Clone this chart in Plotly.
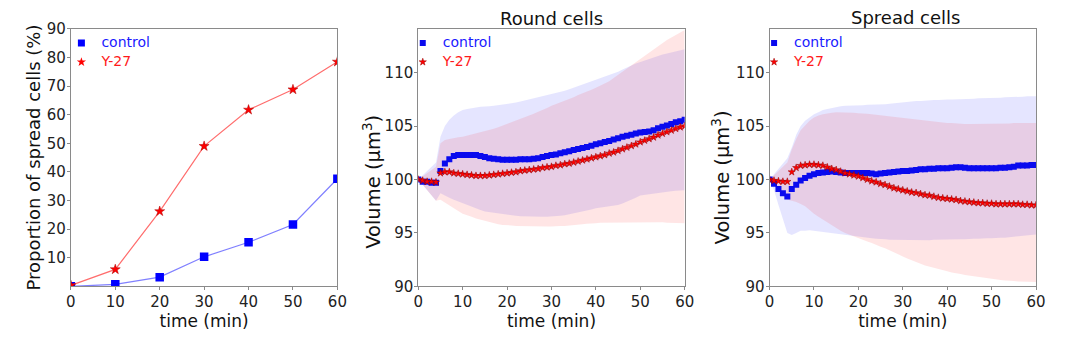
import plotly.graph_objects as go

# ---------------- data ----------------
t_prop = [0, 10, 20, 30, 40, 50, 60]
prop_control = [0.0, 0.7, 3.2, 10.3, 15.4, 21.6, 37.6]
prop_y27 = [0.3, 5.9, 26.2, 49.0, 61.7, 68.8, 78.5]

t_vol = list(range(61))

round_ctrl_mean = [100.0, 99.8, 99.8, 99.7, 99.7, 100.8, 101.5, 101.9, 102.2, 102.3,
                   102.3, 102.3, 102.3, 102.3, 102.2, 102.1, 102.0, 101.95, 101.9, 101.85,
                   101.85, 101.85, 101.85, 101.9, 101.9, 101.9, 101.95, 102.0, 102.1, 102.2,
                   102.3, 102.35, 102.45, 102.55, 102.65, 102.75, 102.85, 102.95, 103.05, 103.15,
                   103.3, 103.4, 103.5, 103.6, 103.75, 103.85, 104.0, 104.1, 104.2, 104.3,
                   104.4, 104.45, 104.5, 104.6, 104.8, 104.95, 105.05, 105.2, 105.35, 105.45,
                   105.6]
round_y27_mean = [100.0, 99.9, 99.8, 99.8, 99.75, 100.6, 100.7, 100.7, 100.6, 100.55,
                  100.5, 100.45, 100.4, 100.35, 100.35, 100.35, 100.4, 100.45, 100.5, 100.55,
                  100.6, 100.65, 100.7, 100.8, 100.85, 100.9, 100.95, 101.0, 101.1, 101.15,
                  101.2, 101.3, 101.35, 101.45, 101.5, 101.6, 101.7, 101.8, 101.9, 102.0,
                  102.1, 102.2, 102.3, 102.45, 102.55, 102.7, 102.85, 103.0, 103.15, 103.3,
                  103.5, 103.65, 103.8, 103.95, 104.15, 104.3, 104.45, 104.6, 104.75, 104.9,
                  105.0]
round_ctrl_upper = [100.0, 100.4, 100.8, 101.2, 101.6, 104.0, 105.0, 105.6, 106.0, 106.3,
                    106.5, 106.6, 106.7, 106.75, 106.8, 106.8, 106.85, 106.9, 106.95, 107.0,
                    107.1, 107.15, 107.2, 107.3, 107.4, 107.5, 107.55, 107.65, 107.75, 107.85,
                    108.0, 108.1, 108.2, 108.3, 108.45, 108.6, 108.7, 108.85, 109.0, 109.15,
                    109.3, 109.45, 109.6, 109.75, 109.9, 110.1, 110.3, 110.5, 110.7, 110.85,
                    111.0, 111.15, 111.3, 111.45, 111.55, 111.7, 111.8, 111.9, 112.0, 112.1,
                    112.2]
round_ctrl_lower = [100.0, 99.5, 99.0, 98.5, 98.0, 98.7, 98.5, 98.3, 98.1, 97.95,
                    97.8, 97.6, 97.45, 97.3, 97.15, 97.0, 96.95, 96.85, 96.8, 96.75,
                    96.7, 96.65, 96.6, 96.55, 96.5, 96.5, 96.5, 96.5, 96.5, 96.5,
                    96.5, 96.55, 96.6, 96.65, 96.75, 96.8, 96.9, 97.0, 97.1, 97.2,
                    97.3, 97.35, 97.4, 97.5, 97.55, 97.6, 97.75, 97.9, 98.1, 98.3,
                    98.5, 98.55, 98.6, 98.65, 98.7, 98.8, 98.85, 98.9, 98.95, 99.0,
                    99.0]
round_y27_upper = [100.0, 100.3, 100.6, 100.9, 101.2, 103.4, 103.7, 103.8, 103.9, 103.95,
                   104.0, 104.1, 104.2, 104.3, 104.4, 104.5, 104.6, 104.75, 104.9, 105.05,
                   105.2, 105.35, 105.5, 105.65, 105.8, 106.0, 106.15, 106.35, 106.5, 106.7,
                   106.9, 107.05, 107.2, 107.35, 107.55, 107.7, 107.9, 108.05, 108.2, 108.4,
                   108.6, 108.8, 109.0, 109.2, 109.5, 109.8, 110.1, 110.4, 110.7, 111.0,
                   111.3, 111.6, 111.9, 112.2, 112.5, 112.8, 113.05, 113.3, 113.55, 113.8,
                   114.0]
round_y27_lower = [100.0, 99.5, 99.0, 98.5, 98.0, 98.1, 97.8, 97.55, 97.3, 97.05,
                   96.8, 96.65, 96.5, 96.35, 96.2, 96.1, 96.0, 95.9, 95.8, 95.75,
                   95.7, 95.7, 95.65, 95.65, 95.6, 95.6, 95.6, 95.6, 95.6, 95.6,
                   95.6, 95.6, 95.65, 95.65, 95.7, 95.7, 95.75, 95.8, 95.85, 95.9,
                   95.9, 95.95, 96.0, 96.0, 96.0, 96.0, 96.0, 96.0, 96.0, 96.0,
                   96.0, 96.0, 96.0, 96.0, 96.0, 96.0, 95.95, 95.95, 95.9, 95.9,
                   95.9]

spread_ctrl_mean = [100.0, 99.6, 99.1, 98.7, 98.4, 99.1, 99.5, 99.9, 100.15, 100.35,
                    100.5, 100.6, 100.65, 100.7, 100.75, 100.7, 100.65, 100.6, 100.6, 100.6,
                    100.6, 100.6, 100.6, 100.55, 100.5, 100.55, 100.6, 100.65, 100.7, 100.75,
                    100.8, 100.8, 100.85, 100.9, 100.95, 100.95, 101.0, 101.0, 101.05, 101.05,
                    101.05, 101.1, 101.15, 101.15, 101.1, 101.05, 101.05, 101.05, 101.05, 101.05,
                    101.05, 101.05, 101.1, 101.1, 101.15, 101.2, 101.3, 101.3, 101.3, 101.35,
                    101.35]
spread_y27_mean = [100.0, 99.9, 99.85, 99.8, 99.8, 100.7, 101.1, 101.3, 101.35, 101.4,
                   101.4, 101.35, 101.3, 101.15, 101.0, 100.9, 100.75, 100.6, 100.5, 100.4,
                   100.3, 100.15, 100.0, 99.85, 99.75, 99.6, 99.5, 99.35, 99.2, 99.1,
                   99.0, 98.9, 98.8, 98.75, 98.65, 98.55, 98.5, 98.4, 98.3, 98.25,
                   98.2, 98.15, 98.1, 98.0, 97.95, 97.9, 97.85, 97.8, 97.8, 97.75,
                   97.75, 97.7, 97.7, 97.7, 97.7, 97.7, 97.7, 97.65, 97.65, 97.6,
                   97.6]
spread_ctrl_upper = [100.0, 100.5, 101.0, 101.5, 102.0, 103.0, 104.2, 105.0, 105.5, 105.8,
                     106.1, 106.3, 106.5, 106.6, 106.7, 106.8, 106.85, 106.9, 106.9, 106.9,
                     106.9, 106.95, 107.0, 107.0, 107.0, 107.0, 107.05, 107.1, 107.15, 107.2,
                     107.25, 107.3, 107.3, 107.35, 107.35, 107.4, 107.4, 107.45, 107.45, 107.5,
                     107.5, 107.5, 107.5, 107.55, 107.55, 107.55, 107.55, 107.6, 107.6, 107.6,
                     107.6, 107.65, 107.65, 107.7, 107.7, 107.7, 107.75, 107.75, 107.8, 107.8,
                     107.8]
spread_ctrl_lower = [100.0, 99.0, 97.6, 96.2, 95.0, 94.8, 95.0, 95.2, 95.2, 95.25,
                     95.2, 95.15, 95.1, 95.05, 95.0, 94.95, 94.9, 94.8, 94.75, 94.7,
                     94.65, 94.6, 94.55, 94.5, 94.45, 94.4, 94.4, 94.35, 94.35, 94.3,
                     94.3, 94.3, 94.3, 94.3, 94.3, 94.3, 94.3, 94.35, 94.35, 94.35,
                     94.4, 94.4, 94.4, 94.4, 94.4, 94.4, 94.45, 94.45, 94.45, 94.5,
                     94.5, 94.5, 94.55, 94.55, 94.6, 94.6, 94.65, 94.7, 94.75, 94.8,
                     94.85]
spread_y27_upper = [100.0, 100.4, 100.8, 101.2, 101.6, 102.8, 103.8, 104.6, 105.1, 105.5,
                    105.8, 106.0, 106.1, 106.2, 106.25, 106.3, 106.3, 106.3, 106.3, 106.25,
                    106.2, 106.2, 106.15, 106.1, 106.05, 106.0, 106.0, 105.95, 105.9, 105.85,
                    105.8, 105.75, 105.7, 105.65, 105.6, 105.55, 105.5, 105.45, 105.4, 105.35,
                    105.3, 105.3, 105.25, 105.25, 105.2, 105.2, 105.2, 105.2, 105.2, 105.2,
                    105.2, 105.2, 105.25, 105.25, 105.25, 105.3, 105.3, 105.3, 105.3, 105.3,
                    105.3]
spread_y27_lower = [100.0, 99.5, 99.0, 98.5, 98.1, 98.0, 97.9, 97.7, 97.5, 97.15,
                    96.8, 96.5, 96.2, 95.95, 95.7, 95.45, 95.2, 95.0, 94.8, 94.65,
                    94.5, 94.35, 94.2, 94.05, 93.9, 93.7, 93.55, 93.4, 93.2, 93.0,
                    92.8, 92.6, 92.4, 92.25, 92.1, 91.95, 91.85, 91.75, 91.6, 91.5,
                    91.4, 91.3, 91.2, 91.15, 91.05, 91.0, 90.95, 90.9, 90.8, 90.75,
                    90.7, 90.65, 90.6, 90.55, 90.5, 90.5, 90.45, 90.45, 90.4, 90.4,
                    90.4]

x_ticks = [0, 10, 20, 30, 40, 50, 60]
prop_ticks = [10, 20, 30, 40, 50, 60, 70, 80, 90]
vol_ticks = [90, 95, 100, 105, 110]

# ---------------- figure ----------------
W, H = 1074, 346
FONT = "DejaVu Sans"
BLUE = "#0000ff"
RED = "#ff0000"
CTRL_NAME = '<span style="font-size:14px;color:#1a1aff">control</span>'
Y27_NAME = '<span style="font-size:14px;color:#ff1a1a">Y-27</span>'

fig = go.Figure()


def band(x, lo, hi, color, xa, ya):
    fig.add_trace(go.Scatter(
        x=list(x) + list(x)[::-1], y=list(hi) + list(lo)[::-1],
        fill="toself", fillcolor=color, mode="lines", line=dict(width=0),
        hoverinfo="skip", showlegend=False, xaxis=xa, yaxis=ya))


fig.add_trace(go.Scatter(x=t_prop, y=prop_control, mode="lines+markers",
                         line=dict(color="rgba(60,60,255,0.65)", width=1.2),
                         marker=dict(symbol="square", size=8.5, color=BLUE),
                         showlegend=False, xaxis="x", yaxis="y"))
fig.add_trace(go.Scatter(x=t_prop, y=prop_y27, mode="lines+markers",
                         line=dict(color="rgba(255,60,60,0.75)", width=1.2),
                         marker=dict(symbol="star", size=7.5, color=RED,
                                     line=dict(color="#aa0000", width=0.5)),
                         showlegend=False, xaxis="x", yaxis="y"))
fig.add_trace(go.Scatter(x=[None], y=[None], mode="markers", name=CTRL_NAME,
                         marker=dict(symbol="square", size=7, color=BLUE), legend="legend",
                         xaxis="x", yaxis="y"))
fig.add_trace(go.Scatter(x=[None], y=[None], mode="markers", name=Y27_NAME,
                         marker=dict(symbol="star", size=7, color=RED), legend="legend",
                         xaxis="x", yaxis="y"))

panels = [
    ("x2", "y2", "legend2", round_ctrl_mean, round_ctrl_lower, round_ctrl_upper,
     round_y27_mean, round_y27_lower, round_y27_upper),
    ("x3", "y3", "legend3", spread_ctrl_mean, spread_ctrl_lower, spread_ctrl_upper,
     spread_y27_mean, spread_y27_lower, spread_y27_upper),
]
for xa, ya, lg, cm, cl, cu, ym, yl, yu in panels:
    band(t_vol, cl, cu, "rgba(0,0,255,0.10)", xa, ya)
    band(t_vol, yl, yu, "rgba(255,0,0,0.10)", xa, ya)
    fig.add_trace(go.Scatter(x=t_vol, y=cm, mode="markers", name=CTRL_NAME,
                             marker=dict(symbol="square", size=6, color="#0a0aee"),
                             legend=lg, xaxis=xa, yaxis=ya))
    fig.add_trace(go.Scatter(x=t_vol, y=ym, mode="markers", name=Y27_NAME,
                             marker=dict(symbol="star", size=5.5, color=RED,
                                         line=dict(color="#990000", width=0.5)),
                             legend=lg, xaxis=xa, yaxis=ya))

ytop = 1 - 21.0 / H
ybot = 1 - 292.5 / H
axis_common = dict(showline=True, mirror=True, linecolor="#8a8a8a", linewidth=1,
                   ticks="outside", ticklen=3, tickcolor="#8a8a8a", showgrid=False,
                   zeroline=False, tickfont=dict(family=FONT, size=15, color="#222"))
xtitle = dict(text="time (min)", font=dict(family=FONT, size=17, color="#111"), standoff=2)

doms = [(66.8, 337.1), (419.1, 689.3), (775.4, 1045.6)]
layout = dict(
    width=W, height=H, margin=dict(l=0, r=0, t=0, b=0),
    paper_bgcolor="white", plot_bgcolor="white",
    font=dict(family=FONT, color="#222"),
)
for i, (a, b) in enumerate(doms):
    suf = "" if i == 0 else str(i + 1)
    layout["xaxis" + suf] = dict(domain=[a / W, b / W], range=[0, 60], tickvals=x_ticks,
                                 anchor="y" + suf, title=xtitle, **axis_common)
    if i == 0:
        layout["yaxis"] = dict(domain=[ybot, ytop], range=[0, 90], tickvals=prop_ticks,
                               anchor="x", **axis_common)
    else:
        layout["yaxis" + suf] = dict(domain=[ybot, ytop], range=[90, 114.1], tickvals=vol_ticks,
                                     anchor="x" + suf, **axis_common)

legend_common = dict(bgcolor="rgba(0,0,0,0)", borderwidth=0, yanchor="top", xanchor="left",
                     font=dict(family=FONT, size=10), tracegroupgap=0, itemclick=False)
layout["legend"] = dict(x=57.2 / W, y=1 - 20.6 / H, **legend_common)
layout["legend2"] = dict(x=403.4 / W, y=1 - 20.6 / H, **legend_common)
layout["legend3"] = dict(x=759.7 / W, y=1 - 20.6 / H, **legend_common)

fig.update_layout(**layout)

ann = [
    ("Proportion of spread cells (%)", 29.4, 156.7, -90, 18),
    ("Volume (µm<sup>3</sup>)", 371.5, 182.0, -90, 19.5),
    ("Volume (µm<sup>3</sup>)", 725.8, 178.0, -90, 19.5),
    ("Round cells", 554.7, 9.6, 0, 18),
    ("Spread cells", 913.0, 8.6, 0, 18),
]
for text, px, py, ang, fs in ann:
    fig.add_annotation(text=text, x=px / W, y=1 - py / H, textangle=ang,
                       xref="paper", yref="paper", showarrow=False, xanchor="center",
                       yanchor="middle", font=dict(family=FONT, size=fs, color="#111"))

try:
    fig.update_xaxes(ticklabelstandoff=-1)
    fig.update_yaxes(ticklabelstandoff=-2)
except Exception:
    pass

fig.write_html("out.html", config={"displayModeBar": False},
               post_script="document.body.style.margin='0';document.body.style.overflow='hidden';")
